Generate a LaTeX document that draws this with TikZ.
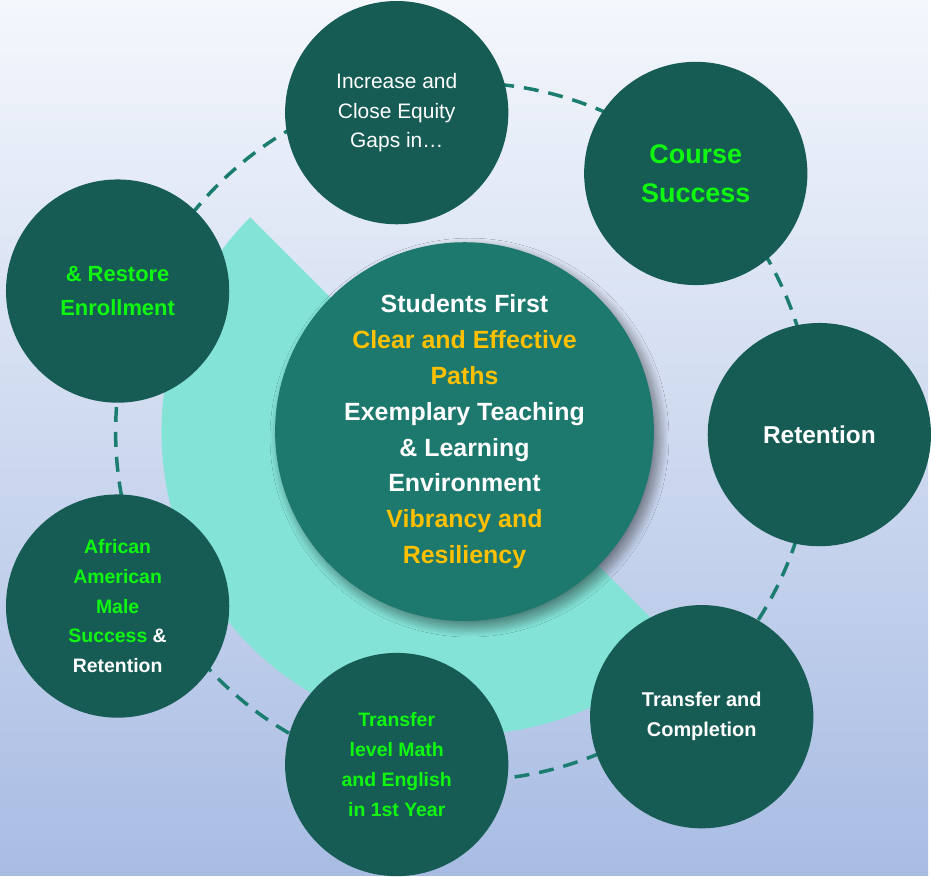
\documentclass[tikz,border=0pt]{standalone}
\usepackage{fontspec}
\setmainfont{Liberation Sans}
\usetikzlibrary{shadows.blur}

\definecolor{ballteal}{HTML}{165C54}
\definecolor{coreteal}{HTML}{1D786D}
\definecolor{wedgecyan}{HTML}{84E3D7}
\definecolor{ringteal}{HTML}{1B7C70}
\definecolor{goalgreen}{HTML}{10F810}
\definecolor{pillargold}{HTML}{FFC000}
\definecolor{skytop}{HTML}{F4F7FC}
\definecolor{skybottom}{HTML}{A8BCE3}

\tikzset{
  ball/.style={circle, fill=ballteal, minimum size=224pt, inner sep=0pt,
    align=center, text=white},
  goalball/.style={ball, text=goalgreen},
  corecircle/.style={circle, fill=coreteal, minimum size=380pt, inner sep=0pt,
    align=center, text=white,
    font=\bfseries\fontsize{25}{36}\selectfont,
    blur shadow={shadow xshift=5pt, shadow yshift=-6pt,
      shadow blur radius=10pt, shadow blur steps=40, shadow opacity=50}},
  ring/.style={draw=ringteal, line width=3.5pt, dash pattern=on 15pt off 10pt}
}

\begin{document}
\begin{tikzpicture}[x=1pt, y=1pt]
          % backdrop
          \shade[top color=skytop, bottom color=skybottom] (0,0) rectangle (931,-878);
          \coordinate (hub) at (466,-433);
          % half disc behind the core
          \fill[wedgecyan] (hub) -- ++(135:304) arc[start angle=135, end angle=315, radius=304] -- cycle;
          % dashed ring
          \draw[ring] (hub) circle[radius=350];
          % core
          \node[corecircle] (core) at (hub) {Students First\\
            \textcolor{pillargold}{Clear and Effective}\\
            \textcolor{pillargold}{Paths}\\
            Exemplary Teaching\\
            \& Learning\\
            Environment\\
            \textcolor{pillargold}{Vibrancy and}\\
            \textcolor{pillargold}{Resiliency}};
          % outer goals
          \node[ball, font=\fontsize{21}{30}\selectfont] (gaps) at (398,-113) {Increase and\\Close Equity\\Gaps in…};
          \node[goalball, font=\bfseries\fontsize{27}{39}\selectfont] (course) at (698,-174) {Course\\Success};
          \node[ball, font=\bfseries\fontsize{24.5}{34}\selectfont] (retention) at (822,-436) {Retention};
          \node[ball, font=\bfseries\fontsize{20}{30}\selectfont] (completion) at (704,-719) {Transfer and\\Completion};
          \node[goalball, font=\bfseries\fontsize{19.5}{30}\selectfont] (mathenglish) at (398,-767) {Transfer\\level Math\\and English\\in 1st Year};
          \node[goalball, font=\bfseries\fontsize{19.5}{30}\selectfont] (aamale) at (118,-608) {African\\American\\Male\\Success \textcolor{white}{\&}\\\textcolor{white}{Retention}};
          \node[goalball, font=\bfseries\fontsize{22}{34}\selectfont] (enrollment) at (118,-292) {\& Restore\\Enrollment};
\end{tikzpicture}
\end{document}
